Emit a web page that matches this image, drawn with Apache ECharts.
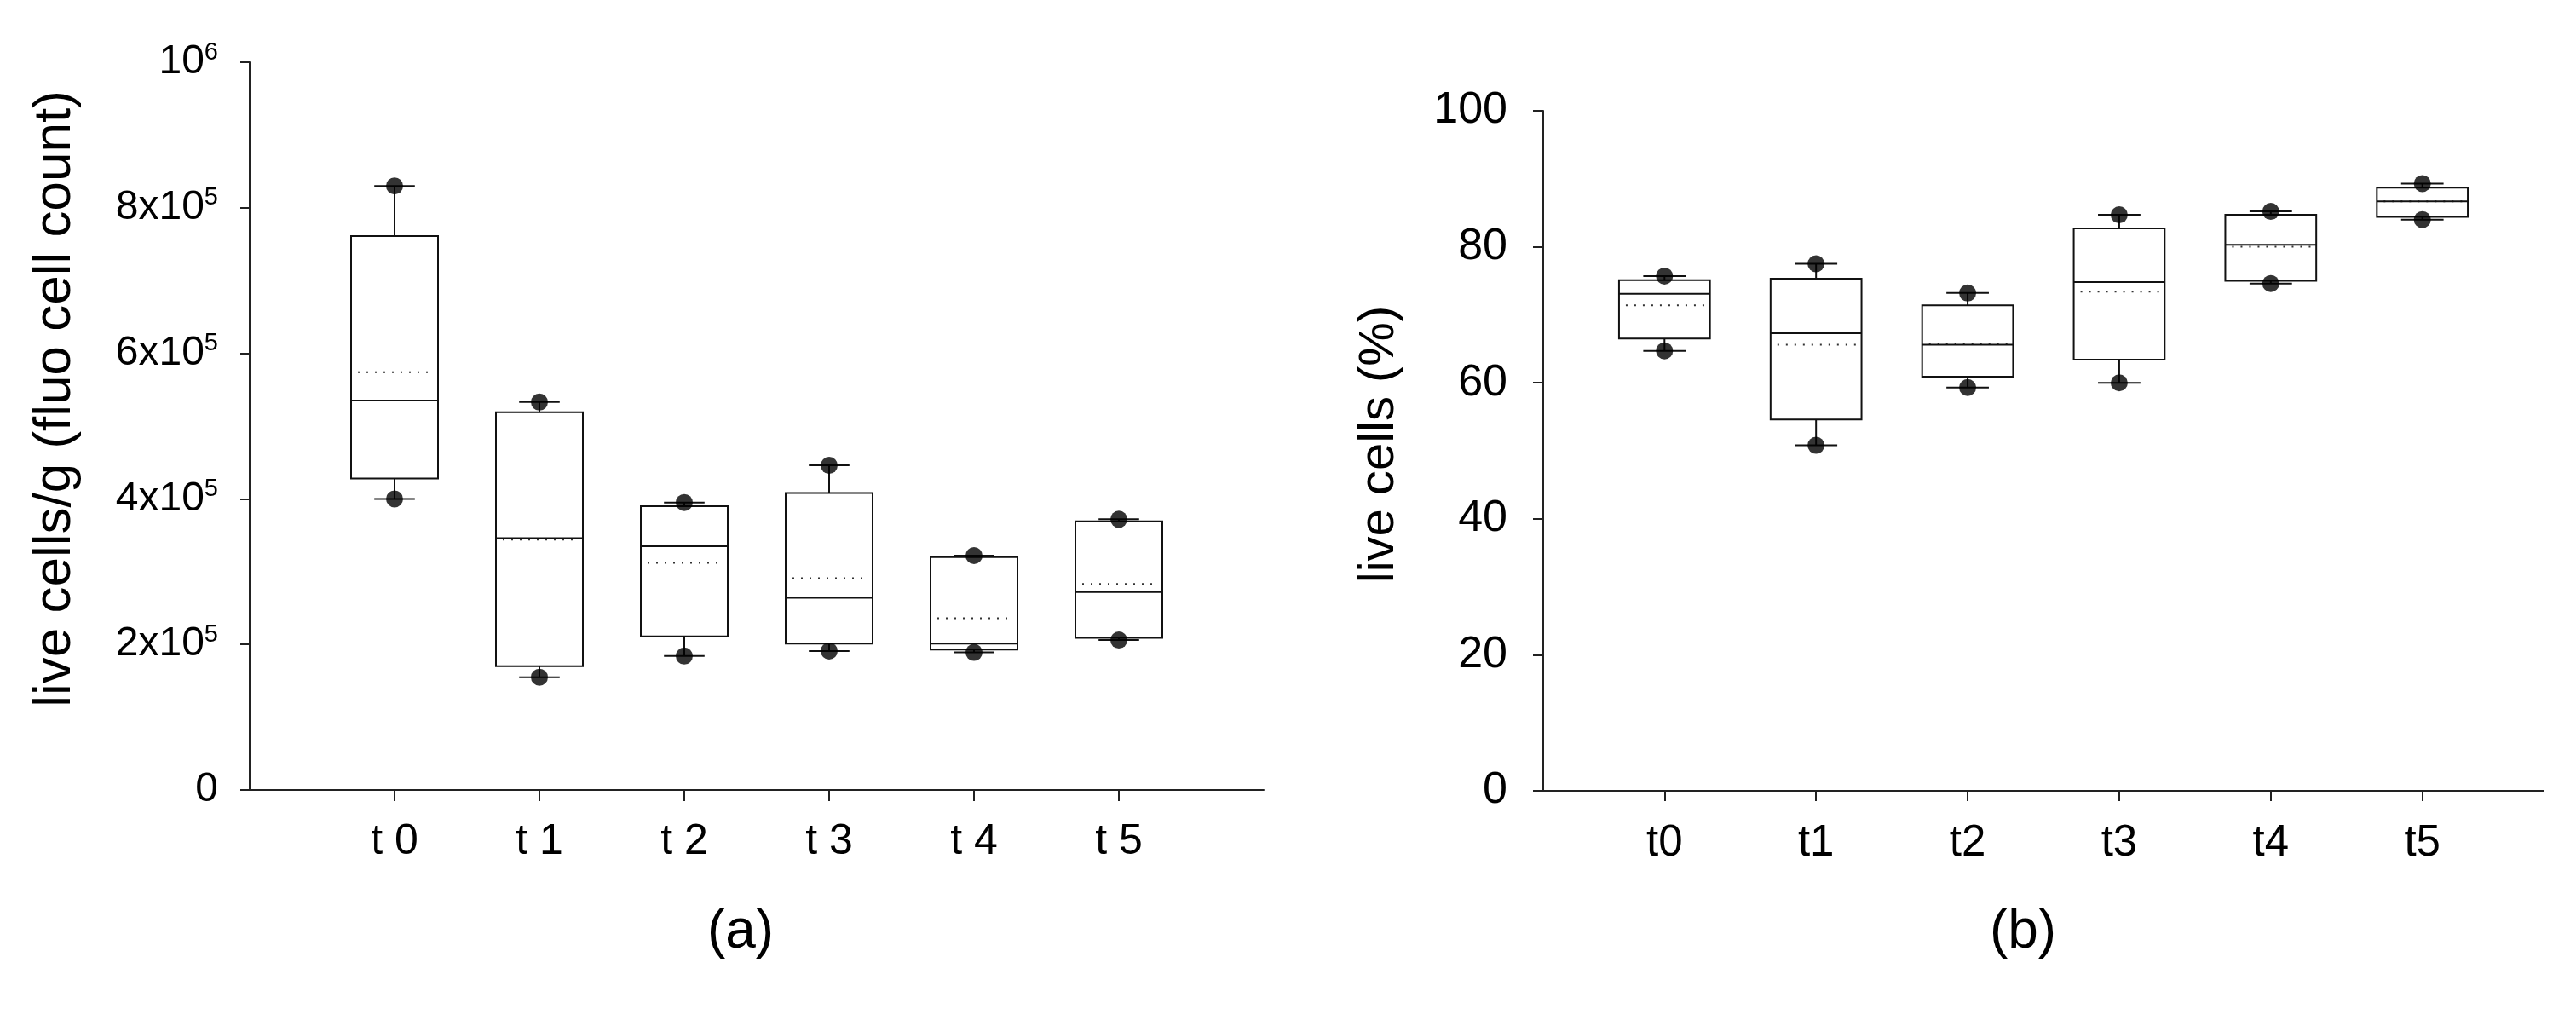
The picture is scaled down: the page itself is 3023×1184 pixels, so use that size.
<!DOCTYPE html>
<html>
<head>
<meta charset="utf-8">
<title>live cells</title>
<script src="https://cdn.jsdelivr.net/npm/echarts@6/dist/echarts.min.js"></script>
<style>
  html, body { margin: 0; padding: 0; background: #fff; }
  #chart { width: 3023px; height: 1184px; }
</style>
</head>
<body>
<div id="chart"></div>
<script>
// (a) live cells per gram, fluo cell count
var catsA = ['t 0', 't 1', 't 2', 't 3', 't 4', 't 5'];
var lowA  = [400000, 155000, 184000, 191000, 189000, 206000];
var q1A   = [428000, 170000, 211000, 201000, 193000, 209000];
var medA  = [535000, 346000, 335000, 264000, 201000, 272000];
var q3A   = [761000, 519000, 390000, 408000, 320000, 369000];
var highA = [830000, 533000, 395000, 446000, 322000, 372000];
var meanA = [574000, 344000, 312000, 291000, 236000, 283000];
var yTicksA = ['0', '2x10{s|5}', '4x10{s|5}', '6x10{s|5}', '8x10{s|5}', '10{s|6}'];

// (b) live cells, percent
var catsB = ['t0', 't1', 't2', 't3', 't4', 't5'];
var lowB  = [64.7, 50.8, 59.3, 60.0, 74.6, 84.0];
var q1B   = [66.5, 54.6, 60.9, 63.4, 75.0, 84.4];
var medB  = [73.1, 67.3, 65.6, 74.8, 80.3, 86.7];
var q3B   = [75.1, 75.3, 71.4, 82.7, 84.7, 88.7];
var highB = [75.7, 77.5, 73.2, 84.7, 85.2, 89.3];
var meanB = [71.4, 65.6, 65.8, 73.4, 80.0, 86.7];

var FONT = '"Liberation Sans", Arial, sans-serif';
var idx = [0, 1, 2, 3, 4, 5];

function boxRows(lo, q1, med, q3, hi, mean){
  var rows = [];
  for(var i=0;i<lo.length;i++){
    rows.push([i, lo[i], q1[i], med[i], q3[i], hi[i], mean[i]]);
  }
  return rows;
}

function dotRows(lo, hi){
  var rows = [];
  for(var i=0;i<lo.length;i++){
    rows.push([i, lo[i]]);
    rows.push([i, hi[i]]);
  }
  return rows;
}

// box, whiskers with short caps, median (solid) and mean (dotted)
function renderBox(params, api){
  var x = api.value(0);
  var pLo = api.coord([x, api.value(1)]);
  var pQ1 = api.coord([x, api.value(2)]);
  var pMed = api.coord([x, api.value(3)]);
  var pQ3 = api.coord([x, api.value(4)]);
  var pHi = api.coord([x, api.value(5)]);
  var pMean = api.coord([x, api.value(6)]);
  var unit = api.size([1, 0])[0];
  var w = unit * 0.6;
  var cap = unit * 0.28;
  var cx = pMed[0];
  var stroke = {stroke: '#111', lineWidth: 2};
  return {
    type: 'group',
    children: [
      {type: 'line', shape: {x1: cx, y1: pQ3[1], x2: cx, y2: pHi[1]}, style: stroke},
      {type: 'line', shape: {x1: cx, y1: pQ1[1], x2: cx, y2: pLo[1]}, style: stroke},
      {type: 'line', shape: {x1: cx - cap/2, y1: pHi[1], x2: cx + cap/2, y2: pHi[1]}, style: stroke},
      {type: 'line', shape: {x1: cx - cap/2, y1: pLo[1], x2: cx + cap/2, y2: pLo[1]}, style: stroke},
      {type: 'rect', shape: {x: cx - w/2, y: pQ3[1], width: w, height: pQ1[1] - pQ3[1]},
        style: {fill: '#fff', stroke: '#111', lineWidth: 2}},
      {type: 'line', shape: {x1: cx - w/2 + 8, y1: pMean[1], x2: cx + w/2 - 6, y2: pMean[1]},
        style: {stroke: '#333', lineWidth: 2, lineDash: [2, 8]}},
      {type: 'line', shape: {x1: cx - w/2, y1: pMed[1], x2: cx + w/2, y2: pMed[1]}, style: stroke}
    ]
  };
}

var axisLine = {show: true, onZero: false, lineStyle: {color: '#222', width: 2}};

var option = {
  backgroundColor: '#fff',
  animation: false,
  grid: [
    {left: 293, top: 73, width: 1190, height: 854},
    {left: 1811, top: 130, width: 1174, height: 798}
  ],
  xAxis: [
    {
      gridIndex: 0, type: 'value', min: -1, max: 6,
      axisLine: axisLine,
      axisTick: {show: true, length: 13, customValues: idx, lineStyle: {color: '#222', width: 2}},
      axisLabel: {customValues: idx, margin: 36, color: '#000', fontFamily: FONT, fontSize: 50,
        formatter: function(v){ return catsA[Math.round(v)]; }},
      splitLine: {show: false}
    },
    {
      gridIndex: 1, type: 'value', min: -0.8, max: 5.8,
      axisLine: axisLine,
      axisTick: {show: true, length: 12, customValues: idx, lineStyle: {color: '#222', width: 2}},
      axisLabel: {customValues: idx, margin: 36, color: '#000', fontFamily: FONT, fontSize: 51,
        formatter: function(v){ return catsB[Math.round(v)]; }},
      splitLine: {show: false}
    }
  ],
  yAxis: [
    {
      gridIndex: 0, type: 'value', min: 0, max: 1000000, interval: 200000,
      name: 'live cells/g (fluo cell count)',
      nameLocation: 'middle', nameGap: 197,
      nameTextStyle: {color: '#000', fontFamily: FONT, fontSize: 62, padding: [0, 0, 0, 64]},
      axisLine: axisLine,
      axisTick: {show: true, length: 11, lineStyle: {color: '#222', width: 2}},
      axisLabel: {
        margin: 37, color: '#000', fontFamily: FONT, fontSize: 48, lineHeight: 52,
        formatter: function(v){ return yTicksA[Math.round(v / 200000)]; },
        rich: {s: {fontFamily: FONT, fontSize: 29, lineHeight: 29, verticalAlign: 'top', color: '#000'}}
      },
      splitLine: {show: false}
    },
    {
      gridIndex: 1, type: 'value', min: 0, max: 100, interval: 20,
      name: 'live cells (%)',
      nameLocation: 'middle', nameGap: 163,
      nameTextStyle: {color: '#000', fontFamily: FONT, fontSize: 58, padding: [0, 0, 0, 15]},
      axisLine: axisLine,
      axisTick: {show: true, length: 12, lineStyle: {color: '#222', width: 2}},
      axisLabel: {margin: 42, color: '#000', fontFamily: FONT, fontSize: 52},
      splitLine: {show: false}
    }
  ],
  graphic: [
    {type: 'text', x: 869, y: 1094, style: {text: '(a)', font: '64px ' + FONT, fill: '#000',
      textAlign: 'center', textVerticalAlign: 'middle'}},
    {type: 'text', x: 2374, y: 1094, style: {text: '(b)', font: '64px ' + FONT, fill: '#000',
      textAlign: 'center', textVerticalAlign: 'middle'}}
  ],
  series: [
    {type: 'custom', xAxisIndex: 0, yAxisIndex: 0, renderItem: renderBox,
      data: boxRows(lowA, q1A, medA, q3A, highA, meanA), z: 2},
    {type: 'scatter', xAxisIndex: 0, yAxisIndex: 0, symbol: 'circle', symbolSize: 20,
      itemStyle: {color: '#000'}, data: dotRows(lowA, highA), z: 3},
    {type: 'custom', xAxisIndex: 1, yAxisIndex: 1, renderItem: renderBox,
      data: boxRows(lowB, q1B, medB, q3B, highB, meanB), z: 2},
    {type: 'scatter', xAxisIndex: 1, yAxisIndex: 1, symbol: 'circle', symbolSize: 20,
      itemStyle: {color: '#000'}, data: dotRows(lowB, highB), z: 3}
  ]
};

var chart = echarts.init(document.getElementById('chart'));
chart.setOption(option);
</script>
</body>
</html>
